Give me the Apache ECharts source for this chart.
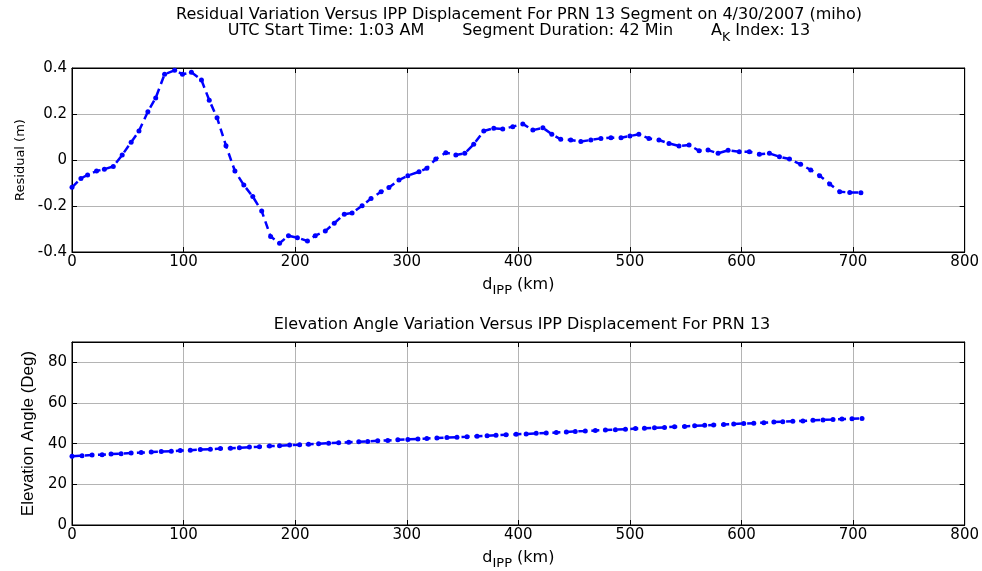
<!DOCTYPE html>
<html>
<head>
<meta charset="utf-8">
<script src="https://cdn.jsdelivr.net/npm/echarts@6/dist/echarts.min.js"></script>
<style>html,body{margin:0;padding:0;background:#fff;}#c{width:982px;height:571px;}</style>
</head>
<body>
<div id="c"></div>
<script>
// Residual vs IPP displacement (top panel)
const residD = [0,8,14,22,29,37,45,53,60,68,75,83,92,99,107,116,123,130,138,146,154,162,170,178,186,194,202,211,218,227,235,244,251,260,268,277,284,293,301,311,318,326,335,344,352,360,369,378,386,395,404,413,422,430,438,447,456,465,474,483,492,500,508,517,526,535,544,553,562,570,579,588,598,607,616,625,634,643,653,662,670,679,688,697,707];
const residV = [-0.119,-0.08,-0.065,-0.048,-0.04,-0.028,0.022,0.077,0.126,0.21,0.27,0.373,0.39,0.373,0.381,0.348,0.26,0.184,0.062,-0.048,-0.109,-0.159,-0.222,-0.333,-0.362,-0.329,-0.338,-0.352,-0.329,-0.309,-0.275,-0.236,-0.23,-0.199,-0.167,-0.138,-0.12,-0.087,-0.068,-0.051,-0.036,0.004,0.032,0.022,0.029,0.068,0.126,0.138,0.135,0.145,0.157,0.13,0.14,0.112,0.09,0.087,0.08,0.087,0.094,0.097,0.097,0.104,0.112,0.094,0.087,0.072,0.061,0.065,0.04,0.043,0.029,0.042,0.036,0.036,0.025,0.029,0.014,0.004,-0.019,-0.043,-0.068,-0.104,-0.138,-0.141,-0.142];
// Elevation angle vs IPP displacement (bottom panel)
const elevD = [0,9,18,27,35,44,53,62,71,80,89,97,106,115,124,133,142,150,159,168,177,186,195,204,212,221,230,239,248,257,265,274,283,292,301,310,318,327,336,345,354,363,372,380,389,398,407,416,425,434,443,451,460,469,478,487,496,505,513,522,531,540,549,558,567,575,584,593,602,611,620,629,637,646,655,664,673,682,690,699,708];
const elevV = [33.8,34.1,34.4,34.6,34.9,35.1,35.4,35.6,35.9,36.1,36.3,36.6,36.8,37.1,37.3,37.6,37.8,38.0,38.3,38.5,38.8,39.0,39.3,39.5,39.7,40.0,40.2,40.5,40.7,40.9,41.1,41.4,41.6,41.9,42.1,42.3,42.5,42.8,43.0,43.2,43.4,43.7,43.9,44.2,44.4,44.6,44.8,45.1,45.3,45.5,45.7,46.0,46.2,46.5,46.7,46.9,47.1,47.4,47.6,47.8,48.0,48.3,48.5,48.8,49.0,49.2,49.4,49.7,49.9,50.1,50.3,50.6,50.8,51.0,51.2,51.5,51.7,51.9,52.1,52.3,52.4];
const xTicks = [0,100,200,300,400,500,600,700,800];
const residTicks = [-0.4,-0.2,0,0.2,0.4];
const elevTicks = [0,20,40,60,80];

const WIDE = 'DejaVu Sans, Verdana, sans-serif';
const FONT = 'Liberation Sans, Arial, sans-serif';
const BLUE = '#0000ff';
const titleRich = {
  n: {fontFamily: WIDE, fontSize: 16, fontWeight: 'normal', color: '#000', lineHeight: 18, verticalAlign: 'top'},
  s: {fontFamily: WIDE, fontSize: 12.5, fontWeight: 'normal', color: '#000', lineHeight: 18, verticalAlign: 'top', padding: [8, 0, 0, 0]},
  g: {width: 38}
};
const axRich = {
  n: {fontFamily: WIDE, fontSize: 16, fontWeight: 'normal', color: '#000', lineHeight: 18, verticalAlign: 'top'},
  s: {fontFamily: WIDE, fontSize: 13, fontWeight: 'normal', color: '#000', lineHeight: 18, verticalAlign: 'top', padding: [7, 0, 0, 0]}
};
const pair = (xs, ys) => xs.map((x, i) => [x, ys[i]]);
const tickStyle = {show: true, inside: true, length: 5, lineStyle: {color: '#000'}};
const gridLine = {show: true, lineStyle: {color: '#b4b4b4', width: 1}};

function xAx(gi) {
  return {
    type: 'value', gridIndex: gi, min: 0, max: 800, interval: 100,
    name: '{n|d}{s|IPP}{n| (km)}', nameLocation: 'middle', nameGap: 25,
    nameTextStyle: {rich: axRich},
    axisLine: {show: true, onZero: false, lineStyle: {color: '#000', width: 1}},
    axisTick: tickStyle,
    axisLabel: {fontFamily: WIDE, fontSize: 15, color: '#000', margin: 3,
      formatter: v => xTicks.includes(v) ? String(v) : ''},
    splitLine: gridLine
  };
}
function xTop(gi) {
  return {type: 'value', gridIndex: gi, position: 'top', min: 0, max: 800, interval: 100,
    axisLine: {show: true, onZero: false, lineStyle: {color: '#000'}}, axisTick: tickStyle,
    axisLabel: {show: false}, splitLine: {show: false}};
}
function yRight(gi, mn, mx, iv) {
  return {type: 'value', gridIndex: gi, position: 'right', min: mn, max: mx, interval: iv,
    axisLine: {show: true, onZero: false, lineStyle: {color: '#000'}}, axisTick: tickStyle,
    axisLabel: {show: false}, splitLine: {show: false}};
}

const option = {
  backgroundColor: '#fff',
  animation: false,
  title: [
    {text: '{n|Residual Variation Versus IPP Displacement For PRN 13 Segment on 4/30/2007 (miho)}',
     left: 514, top: 2, textAlign: 'center', textStyle: {rich: titleRich}},
    {text: '{n|UTC Start Time: 1:03 AM}{g|}{n|Segment Duration: 42 Min}{g|}{n|A}{s|K}{n| Index: 13}',
     left: 514, top: 18, textAlign: 'center', textStyle: {rich: titleRich}},
    {text: '{n|Elevation Angle Variation Versus IPP Displacement For PRN 13}',
     left: 517, top: 312, textAlign: 'center', textStyle: {rich: titleRich}}
  ],
  grid: [
    {left: 72, right: 16, top: 68, height: 184, show: true, borderColor: '#000', borderWidth: 1, backgroundColor: '#fff'},
    {left: 72, right: 16, top: 342, height: 186, show: true, borderColor: '#000', borderWidth: 1, backgroundColor: '#fff'}
  ],
  xAxis: [xAx(0), xAx(1), xTop(0), xTop(1)],
  yAxis: [
    {type: 'value', gridIndex: 0, min: -0.4, max: 0.4, interval: 0.2,
     name: 'Residual (m)', nameLocation: 'middle', nameGap: 45,
     nameTextStyle: {fontFamily: WIDE, fontSize: 13, color: '#000'},
     axisLine: {show: true, onZero: false, lineStyle: {color: '#000'}},
     axisTick: tickStyle,
     axisLabel: {fontFamily: WIDE, fontSize: 15, color: '#000', margin: 5,
       formatter: v => { const t = residTicks.find(r => Math.abs(r - v) < 1e-9); return t === undefined ? '' : (t === 0 ? '0' : t.toFixed(1)); }},
     splitLine: gridLine},
    {type: 'value', gridIndex: 1, min: 0, max: 90, interval: 20,
     name: 'Elevation Angle (Deg)', nameLocation: 'middle', nameGap: 35,
     nameTextStyle: {fontFamily: FONT, fontSize: 17, color: '#000'},
     axisLine: {show: true, onZero: false, lineStyle: {color: '#000'}},
     axisTick: tickStyle,
     axisLabel: {fontFamily: WIDE, fontSize: 15, color: '#000', margin: 5,
       formatter: v => elevTicks.includes(v) ? String(v) : ''},
     splitLine: gridLine},
    yRight(0, -0.4, 0.4, 0.2),
    yRight(1, 0, 90, 20)
  ],
  series: [
    {type: 'line', xAxisIndex: 0, yAxisIndex: 0, data: pair(residD, residV),
     symbol: 'circle', symbolSize: 5, itemStyle: {color: BLUE},
     lineStyle: {color: BLUE, width: 2.5, type: [8, 5]}},
    {type: 'line', xAxisIndex: 1, yAxisIndex: 1, data: pair(elevD, elevV),
     symbol: 'circle', symbolSize: 5, itemStyle: {color: BLUE},
     lineStyle: {color: BLUE, width: 2.5, type: [8, 5]}}
  ]
};
echarts.init(document.getElementById('c'), null, {renderer: 'canvas'}).setOption(option);
</script>
</body>
</html>
